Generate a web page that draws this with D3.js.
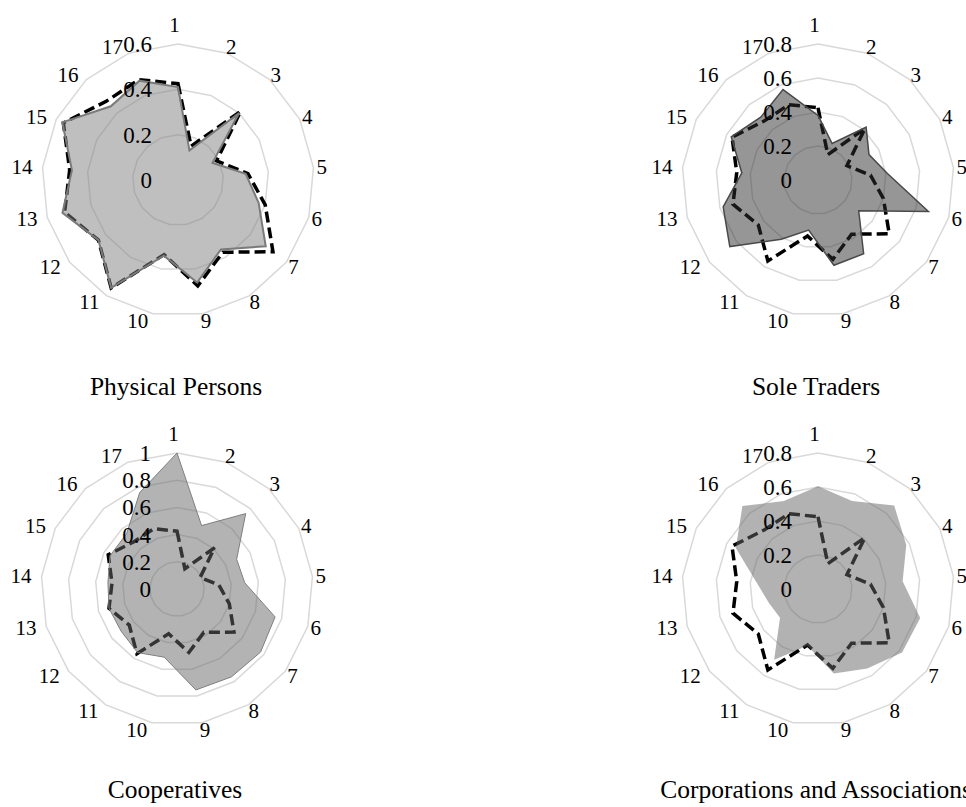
<!DOCTYPE html>
<html>
<head>
<meta charset="utf-8">
<script src="https://cdn.jsdelivr.net/npm/d3@7"></script>
<style>
  body { margin: 0; background: #fff; }
  text { font-family: "Liberation Serif", "Times New Roman", "DejaVu Serif", serif; }
</style>
</head>
<body>
<div id="chart"></div>
<script>
// 17 axes, numbered clockwise from the top
const axes = d3.range(1, 18)

// dashed reference line (same in every panel)
const overall = [0.425, 0.16, 0.41, 0.19, 0.31, 0.40, 0.525, 0.375, 0.475, 0.335, 0.56, 0.44, 0.52, 0.48, 0.565, 0.47, 0.475]

// shaded series, one per panel
const physicalPersons = [0.41, 0.14, 0.40, 0.17, 0.30, 0.37, 0.485, 0.36, 0.46, 0.34, 0.56, 0.44, 0.53, 0.47, 0.57, 0.44, 0.47]
const soleTraders = [0.38, 0.23, 0.42, 0.335, 0.41, 0.675, 0.30, 0.51, 0.51, 0.30, 0.41, 0.65, 0.58, 0.45, 0.57, 0.50, 0.57]
const cooperatives = [1.0, 0.50, 0.75, 0.49, 0.50, 0.75, 0.77, 0.76, 0.755, 0.51, 0.55, 0.515, 0.52, 0.51, 0.55, 0.55, 0.76]
const corporations = [0.605, 0.555, 0.665, 0.58, 0.50, 0.625, 0.62, 0.55, 0.505, 0.34, 0.49, 0.28, 0.30, 0.36, 0.54, 0.66, 0.555]

// radial tick values of each panel
const ticks1 = [0, 0.2, 0.4, 0.6]
const ticks2 = [0, 0.2, 0.4, 0.6, 0.8]
const ticks3 = [0, 0.2, 0.4, 0.6, 0.8, 1]
const ticks4 = [0, 0.2, 0.4, 0.6, 0.8]

const titles = ["Physical Persons", "Sole Traders", "Cooperatives", "Corporations and Associations"]

// panel layout + look
const panels = [
    {title: titles[0], values: physicalPersons, ticks: ticks1, cx: 178, cy: 180, ty: 395,
     fill: "#7f7f7f", stroke: "#7a7a7a", strokeWidth: 2},
    {title: titles[1], values: soleTraders, ticks: ticks2, cx: 818, cy: 180, ty: 395,
     fill: "#2d2d2d", stroke: "#4a4a4a", strokeWidth: 1.5},
    {title: titles[2], values: cooperatives, ticks: ticks3, cx: 177, cy: 589, ty: 798,
     fill: "#676767", stroke: "#808080", strokeWidth: 1},
    {title: titles[3], values: corporations, ticks: ticks4, cx: 818, cy: 589, ty: 798,
     fill: "#666666", stroke: "none", strokeWidth: 0}
]

const width = 966, height = 807
const R = 136
const step = 2 * Math.PI / axes.length
const serif = "'Liberation Serif', 'Times New Roman', serif"

let svg = d3.select("#chart").append("svg")
    .attr("width", width)
    .attr("height", height)
    .attr("font-family", serif)

panels.forEach(p => {
    let maxV = d3.max(p.ticks)
    let r = d3.scaleLinear().domain([0, maxV]).range([0, R])

    let radial = d3.lineRadial()
        .angle((d, i) => i * step)
        .radius(d => r(d))
        .curve(d3.curveLinearClosed)

    let g = svg.append("g")
        .attr("transform", "translate(" + p.cx + "," + p.cy + ")")

    // polygon gridlines
    g.selectAll(".ring")
        .data(p.ticks.filter(t => t > 0))
        .enter().append("path")
        .attr("class", "ring")
        .attr("d", t => radial(axes.map(() => t)))
        .attr("fill", "none")
        .attr("stroke", "#d9d9d9")
        .attr("stroke-width", 1.5)

    // dashed overall line
    g.append("path")
        .attr("d", radial(overall))
        .attr("fill", "none")
        .attr("stroke", "#000")
        .attr("stroke-width", 3.5)
        .attr("stroke-dasharray", "11,5")
        .attr("stroke-linejoin", "miter")

    // shaded series on top, half transparent
    g.append("path")
        .attr("d", radial(p.values))
        .attr("fill", p.fill)
        .attr("fill-opacity", 0.5)
        .attr("stroke", p.stroke)
        .attr("stroke-width", p.strokeWidth)

    // radial tick labels
    g.selectAll(".tick")
        .data(p.ticks)
        .enter().append("text")
        .attr("class", "tick")
        .attr("x", -26)
        .attr("y", t => -r(t))
        .attr("dy", "0.35em")
        .attr("text-anchor", "end")
        .attr("font-family", serif)
        .style("font-size", "23px")
        .text(t => String(t))

    // category labels around the outside
    // right half anchored at start, left half at end, top one centred
    g.selectAll(".cat")
        .data(axes)
        .enter().append("text")
        .attr("class", "cat")
        .attr("x", (d, i) => -3.5 + Math.sin(i * step) * 142.5)
        .attr("y", (d, i) => i == 0 ? -155 : -Math.cos(i * step) * 143)
        .attr("dy", "0.35em")
        .attr("text-anchor", (d, i) => i == 0 ? "middle" : (i < axes.length / 2 ? "start" : "end"))
        .attr("font-family", serif)
        .style("font-size", "21px")
        .text(d => d)

    // panel title
    svg.append("text")
        .attr("x", p.cx - 2)
        .attr("y", p.ty)
        .attr("text-anchor", "middle")
        .attr("font-family", serif)
        .style("font-size", "25.5px")
        .text(p.title)
})
</script>
</body>
</html>
